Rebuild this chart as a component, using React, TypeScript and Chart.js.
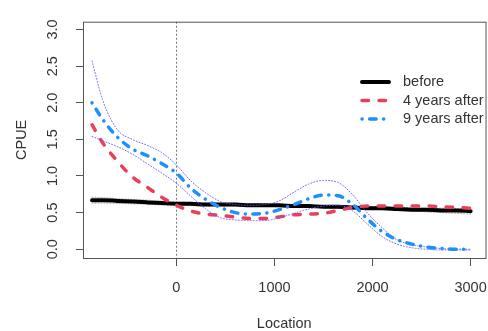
import React, { useEffect, useRef } from 'react';
import { Chart, registerables } from 'chart.js';

Chart.register(...registerables);

const locations = [-860, -750, -600, -450, -300, -150, 0, 150, 300, 450, 600, 750, 900, 1050, 1200, 1350, 1500, 1650, 1800, 1950, 2100, 2250, 2400, 2550, 2700, 2850, 3000];

const before = [0.67, 0.67, 0.66, 0.65, 0.64, 0.63, 0.62, 0.62, 0.61, 0.61, 0.61, 0.60, 0.60, 0.60, 0.59, 0.59, 0.58, 0.58, 0.57, 0.56, 0.56, 0.55, 0.54, 0.54, 0.53, 0.53, 0.52];
const beforeUpper = [0.71, 0.705, 0.69, 0.68, 0.67, 0.655, 0.645, 0.635, 0.63, 0.625, 0.62, 0.615, 0.61, 0.61, 0.605, 0.6, 0.595, 0.59, 0.585, 0.58, 0.575, 0.57, 0.565, 0.56, 0.56, 0.555, 0.55];
const beforeLower = [0.63, 0.63, 0.625, 0.62, 0.615, 0.605, 0.6, 0.595, 0.59, 0.59, 0.59, 0.585, 0.585, 0.58, 0.575, 0.57, 0.565, 0.56, 0.55, 0.545, 0.54, 0.53, 0.52, 0.51, 0.5, 0.49, 0.48];

const after4 = [1.70, 1.45, 1.20, 0.99, 0.85, 0.71, 0.60, 0.52, 0.48, 0.46, 0.44, 0.42, 0.42, 0.44, 0.47, 0.48, 0.49, 0.53, 0.57, 0.59, 0.59, 0.59, 0.59, 0.59, 0.58, 0.57, 0.56];

const after9 = [2.00, 1.77, 1.53, 1.37, 1.28, 1.17, 1.04, 0.83, 0.68, 0.57, 0.50, 0.48, 0.49, 0.54, 0.61, 0.69, 0.74, 0.73, 0.61, 0.41, 0.24, 0.13, 0.07, 0.03, 0.01, 0.0, 0.0];
const after9Upper = [2.57, 2.03, 1.63, 1.50, 1.42, 1.32, 1.15, 0.93, 0.77, 0.65, 0.61, 0.60, 0.61, 0.66, 0.78, 0.89, 0.94, 0.91, 0.74, 0.49, 0.29, 0.13, 0.06, 0.03, 0.01, 0.0, 0.0];
const after9Lower = [1.54, 1.48, 1.40, 1.30, 1.17, 1.04, 0.90, 0.72, 0.55, 0.43, 0.40, 0.39, 0.39, 0.43, 0.49, 0.55, 0.59, 0.60, 0.52, 0.34, 0.17, 0.07, 0.02, 0.0, -0.01, -0.01, -0.01];

const xTicks = [0, 1000, 2000, 3000];
const yTicks = [0, 0.5, 1.0, 1.5, 2.0, 2.5, 3.0];
const legendLabels = ['before', '4 years after', '9 years after'];

const FONT = '"Liberation Sans", Arial, Helvetica, sans-serif';
const TEXT = '#333333';
const AXIS = '#555555';

const pts = (ys: number[]) => locations.map((x, i) => ({ x, y: ys[i] }));

const frame = {
  id: 'frame',
  beforeDatasetsDraw(chart: any) {
    const { ctx, chartArea } = chart;
    const x0 = Math.round(chart.scales.x.getPixelForValue(0)) + 0.5;
    ctx.save();
    ctx.strokeStyle = '#777777';
    ctx.lineWidth = 1;
    ctx.setLineDash([2, 2]);
    ctx.beginPath();
    ctx.moveTo(x0, chartArea.top);
    ctx.lineTo(x0, chartArea.bottom);
    ctx.stroke();
    ctx.restore();
  },
  afterDraw(chart: any) {
    const { ctx, chartArea } = chart;
    ctx.save();
    ctx.strokeStyle = AXIS;
    ctx.lineWidth = 1;
    ctx.strokeRect(chartArea.left + 0.5, chartArea.top + 0.5, chartArea.right - chartArea.left, chartArea.bottom - chartArea.top);
    // legend
    const rows = [82, 100.5, 119];
    chart.data.datasets.forEach((ds: any) => {
      if (ds.legendIndex === undefined) return;
      const y = rows[ds.legendIndex];
      ctx.save();
      ctx.strokeStyle = ds.borderColor;
      ctx.lineWidth = ds.borderWidth;
      ctx.lineCap = ds.borderCapStyle || 'butt';
      ctx.setLineDash(ds.borderDash || []);
      ctx.beginPath();
      ctx.moveTo(362, y);
      ctx.lineTo(389, y);
      ctx.stroke();
      ctx.restore();
      ctx.fillStyle = TEXT;
      ctx.font = `14.5px ${FONT}`;
      ctx.textAlign = 'left';
      ctx.textBaseline = 'middle';
      ctx.fillText(legendLabels[ds.legendIndex], 403, y);
    });
    ctx.restore();
  },
};

export default function App() {
  const ref = useRef<HTMLCanvasElement | null>(null);
  useEffect(() => {
    if (!ref.current) return;
    const common = { pointRadius: 0, fill: false, cubicInterpolationMode: 'monotone' as const, borderCapStyle: 'round' as const };
    const chart = new Chart(ref.current, {
      type: 'line',
      data: {
        datasets: [
          { ...common, label: '9 years after', legendIndex: 2, data: pts(after9), borderColor: '#1e8fff', borderWidth: 3.5, borderDash: [0.1, 7.5, 6.5, 7.5], order: 0 } as any,
          { ...common, label: '9 upper', data: pts(after9Upper), borderColor: 'rgba(105,90,255,0.9)', borderWidth: 1, borderDash: [1, 2], order: 1 } as any,
          { ...common, label: '9 lower', data: pts(after9Lower), borderColor: 'rgba(105,90,255,0.9)', borderWidth: 1, borderDash: [1, 2], order: 1 } as any,
          { ...common, label: '4 years after', legendIndex: 1, data: pts(after4), borderColor: '#e8405a', borderWidth: 3.5, borderDash: [6.5, 10.5], order: 2 } as any,
          { ...common, label: 'before', legendIndex: 0, data: pts(before), borderColor: '#000000', borderWidth: 4, order: 3 } as any,
          { ...common, label: 'b upper', data: pts(beforeUpper), borderColor: '#999999', borderWidth: 1, borderDash: [1, 2], order: 4 } as any,
          { ...common, label: 'b lower', data: pts(beforeLower), borderColor: '#999999', borderWidth: 1, borderDash: [1, 2], order: 4 } as any,
        ],
      },
      options: {
        responsive: false,
        maintainAspectRatio: false,
        animation: false,
        devicePixelRatio: 1,
        layout: { padding: { left: 0, right: 7, top: 16, bottom: 0 } },
        plugins: { legend: { display: false }, tooltip: { enabled: false } },
        scales: {
          x: {
            type: 'linear',
            min: -952,
            max: 3152,
            afterBuildTicks: (s: any) => { s.ticks = xTicks.map((v) => ({ value: v })); },
            afterFit: (s: any) => { s.height = 73; },
            ticks: { autoSkip: false, maxRotation: 0, padding: 13, color: TEXT, font: { family: FONT, size: 14.5 }, callback: (v: any) => String(v) },
            grid: { drawOnChartArea: false, drawTicks: true, tickLength: 8, color: AXIS, lineWidth: 1 },
            border: { display: false },
            title: { display: true, text: 'Location', color: TEXT, font: { family: FONT, size: 14.5, lineHeight: 1 }, padding: { top: 0, bottom: 0 } },
          },
          y: {
            type: 'linear',
            min: -0.12,
            max: 3.107,
            afterBuildTicks: (s: any) => { s.ticks = yTicks.map((v) => ({ value: v })); },
            afterFit: (s: any) => { s.width = 83; },
            ticks: { autoSkip: false, minRotation: 90, maxRotation: 90, crossAlign: 'center', padding: 13, color: TEXT, font: { family: FONT, size: 14.5 }, callback: (v: any) => Number(v).toFixed(1) },
            grid: { drawOnChartArea: false, drawTicks: true, tickLength: 7, color: AXIS, lineWidth: 1 },
            border: { display: false },
            title: { display: true, text: 'CPUE', color: TEXT, font: { family: FONT, size: 14.5, lineHeight: 1 }, padding: { top: 15, bottom: 0 } },
          },
        },
      } as any,
      plugins: [frame],
    });
    return () => chart.destroy();
  }, []);
  return (
    <div style={{ position: 'fixed', left: 0, top: 0, width: 488, height: 331, overflow: 'hidden', background: '#ffffff' }}>
      <canvas ref={ref} width={500} height={331} style={{ display: 'block', width: 500, height: 331 }} />
    </div>
  );
}
